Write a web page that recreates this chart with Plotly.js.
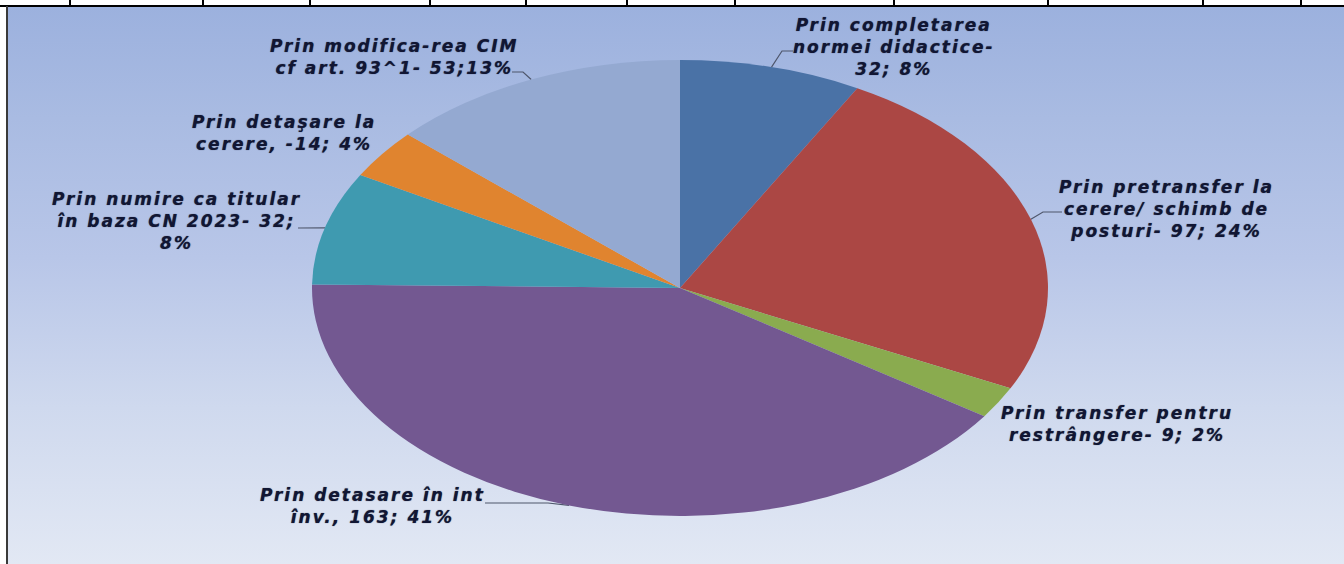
<!DOCTYPE html>
<html>
<head>
<meta charset="utf-8">
<script src="https://cdn.plot.ly/plotly-3.0.1.min.js"></script>
<style>
html,body{margin:0;padding:0;width:1344px;height:564px;overflow:hidden;background:#ffffff;}
#bg{position:absolute;left:8px;top:7px;width:1336px;height:557px;
  background:linear-gradient(to bottom,#9cb1de 0%,#a9bbe2 20%,#b8c6e8 45%,#cfd9ee 72%,#e2e8f4 100%);}
#chart{position:absolute;left:0;top:0;width:1344px;height:564px;}
.rule{position:absolute;background:#000;}
.annotation-text{letter-spacing:2px;}
</style>
</head>
<body>
<div id="bg"></div>
<div id="rules"></div>
<div id="chart"></div>
<script>
// ---- data ----
const sliceNames = [
  "Prin completarea normei didactice",
  "Prin pretransfer la cerere/ schimb de posturi",
  "Prin transfer pentru restrângere",
  "Prin detasare în int înv.",
  "Prin numire ca titular în baza CN 2023",
  "Prin detaşare la cerere",
  "Prin modifica-rea CIM cf art. 93^1"
];
const sliceValues = [32, 97, 9, 163, 32, 14, 53];
const labelTexts = [
  "Prin completarea<br>normei didactice-<br>32; 8%",
  "Prin pretransfer la<br>cerere/ schimb de<br>posturi- 97; 24%",
  "Prin transfer pentru<br>restrângere- 9; 2%",
  "Prin detasare în int<br>înv., 163; 41%",
  "Prin numire ca titular<br>în baza CN 2023- 32;<br>8%",
  "Prin detaşare la<br>cerere, -14; 4%",
  "Prin modifica-rea CIM<br>cf art. 93^1- 53;13%"
];
const sliceColors = ['#4a72a6','#ab4744','#8aab4f','#735891','#3f9ab0','#e0842f','#94a9d1'];

// ---- layout geometry (pixels) ----
const W = 1344, H = 564, CX = 680, CY = 288, RX = 368, RY = 228;
const labelPos = [[894,47],[1166,209],[1117,424],[372,506],[176,221],[284,133],[394,57]];
const leaderPts = [
  [[793,51],[782,51]],
  [[1062,212],[1043,212]],
  null,
  [[485,503],[548,503]],
  [[298,228],[318,228]],
  null,
  [[512,72],[523,72]]
];

// page rules (table border above the chart)
const ruleX = [70,203,310,430,526,627,735,894,1048,1203,1301];
const rules = document.getElementById('rules');
function addRule(l,t,w,h,c){const d=document.createElement('div');d.className='rule';d.style.left=l+'px';d.style.top=t+'px';d.style.width=w+'px';d.style.height=h+'px';if(c)d.style.background=c;rules.appendChild(d);}
addRule(0,5,W,2);
ruleX.forEach(x=>addRule(x-1,0,2,6));
addRule(6,6,2,H-6,'#3a3a3a');

const px2x = px => (px - CX) / RX;
const py2y = py => (CY - py) / RY;
const total = sliceValues.reduce((a,b)=>a+b,0);
let cum = 0;
const mids = sliceValues.map(v => {
  const a = 2*Math.PI*(cum + v/2)/total; cum += v;
  return [Math.sin(a), Math.cos(a)];
});

const traces = [{
  type:'pie', values:sliceValues, labels:sliceNames,
  marker:{colors:sliceColors, line:{width:0}},
  sort:false, direction:'clockwise', rotation:0,
  textinfo:'none', hoverinfo:'skip', showlegend:false,
  domain:{x:[(CX-RY)/W,(CX+RY)/W], y:[(H-CY-RY)/H,(H-CY+RY)/H]}
}];
leaderPts.forEach((pts,i)=>{
  if(!pts) return;
  traces.push({
    type:'scatter', mode:'lines',
    x: pts.map(p=>px2x(p[0])).concat([mids[i][0]]),
    y: pts.map(p=>py2y(p[1])).concat([mids[i][1]]),
    line:{color:'#4e566b', width:1.2}, hoverinfo:'skip', showlegend:false
  });
});

const layout = {
  width:W, height:H, margin:{l:0,r:0,t:0,b:0},
  paper_bgcolor:'rgba(0,0,0,0)', plot_bgcolor:'rgba(0,0,0,0)',
  showlegend:false,
  xaxis:{range:[px2x(0), px2x(W)], visible:false, fixedrange:true},
  yaxis:{range:[py2y(H), py2y(0)], visible:false, fixedrange:true},
  annotations: labelTexts.map((t,i)=>({
    text:t, x:px2x(labelPos[i][0]), y:py2y(labelPos[i][1]), xref:'x', yref:'y',
    showarrow:false, xanchor:'center', yanchor:'middle', align:'center',
    font:{family:'DejaVu Sans', size:17, weight:'bold', style:'italic', color:'#111633',
          shadow:'0px 0px 1px rgba(17,22,51,0.7)'}
  }))
};

Plotly.newPlot('chart', traces, layout, {staticPlot:true, displayModeBar:false}).then(gd=>{
  const pl = gd.querySelector('.pielayer');
  if(pl) pl.setAttribute('transform', `translate(${CX} 0) scale(${RX/RY} 1) translate(${-CX} 0)`);
});
</script>
</body>
</html>
